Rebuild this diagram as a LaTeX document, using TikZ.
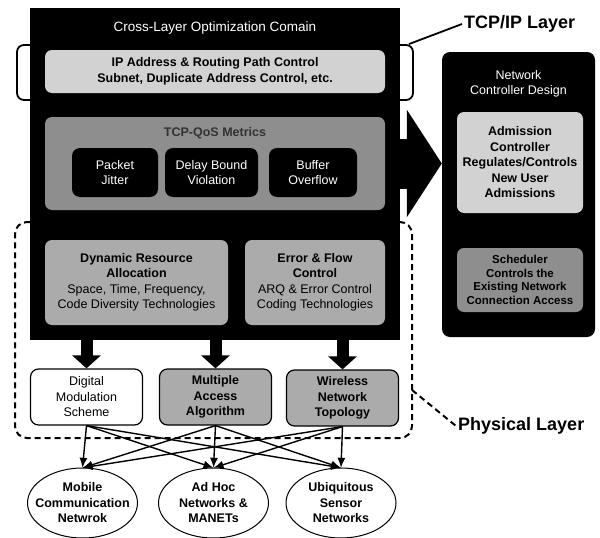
\documentclass[tikz,border=0pt]{standalone}
\usepackage{fontspec}
\setmainfont{Liberation Sans}
\usetikzlibrary{arrows.meta}
\definecolor{Ink}{HTML}{000000}
\definecolor{Pale}{HTML}{D2D2D2}
\definecolor{Mid}{HTML}{ABABAB}
\definecolor{Dusk}{HTML}{8E8E8E}
\newcommand\txtrm{\fontsize{12.5}{15.5}\selectfont}
\newcommand\txtbf{\fontsize{12.5}{15.5}\selectfont\bfseries}
\newcommand\txtsm{\fontsize{11.5}{13.5}\selectfont\bfseries}
\newcommand\txtbig{\fontsize{18}{21}\selectfont\bfseries}
\tikzset{
  >={Latex[length=10pt,width=8pt]},
  blk/.style={rectangle,fill=Ink,draw=none,inner sep=0pt},
  hdr/.style={text=white,font=\txtrm,align=center},
  panel/.style={rectangle,rounded corners=7pt,fill=Mid,draw=none,align=center,text=Ink,font=\txtbf,inner sep=2pt},
  qbox/.style={rectangle,rounded corners=8pt,fill=Ink,text=white,font=\txtrm,align=center,minimum height=49pt},
  outbox/.style={rectangle,rounded corners=8pt,draw=Ink,line width=1.2pt,fill=white,align=center,font=\txtrm,minimum width=112pt,minimum height=56pt,inner sep=1pt},
  netw/.style={rectangle,align=center,font=\txtbf,minimum width=110pt,minimum height=70pt,inner sep=0pt},
  rim/.style={draw=Ink,line width=1pt},
  trans/.style={->,line width=1.4pt,draw=Ink},
  fat/.style={line width=12pt,draw=Ink,-{Triangle[width=28pt,length=13pt]}},
  layerlab/.style={font=\txtbig,inner sep=2pt},
  bracket/.style={rectangle,rounded corners=7pt,draw=Ink,line width=1.8pt},
  physline/.style={draw=Ink,line width=2pt,dash pattern=on 6pt off 4pt}
}
\begin{document}
\begin{tikzpicture}[x=1pt,y=-1pt]
\useasboundingbox (0,0) rectangle (600,538);
% layer outlines, partly hidden by the domain box
\node[bracket,minimum width=396pt,minimum height=55pt] (tcpbrk) at (215,72.5) {};
\node[bracket,physline,rounded corners=12pt,minimum width=397pt,minimum height=216pt] (phys) at (213.5,330) {};

% cross-layer domain
\node[blk,minimum width=370pt,minimum height=332pt] (dom) at (215,174) {};
\node[hdr,font=\fontsize{13.5}{16}\selectfont] (domtitle) at (215,28) {Cross-Layer Optimization Comain};
\node[panel,fill=Pale,minimum width=340pt,minimum height=43pt] (ipc) at (215,71.5) {IP Address \& Routing Path Control\\Subnet, Duplicate Address Control, etc.};
\node[panel,fill=Dusk,minimum width=340pt,minimum height=93pt] (qos) at (215,163.5) {};
\node[font=\txtbf,text=black!80] (qostitle) at (215,133) {TCP-QoS Metrics};
\node[qbox,minimum width=86pt] (jit) at (115,172.5) {Packet\\Jitter};
\node[qbox,minimum width=93pt] (dbv) at (211.5,172.5) {Delay Bound\\Violation};
\node[qbox,minimum width=88pt] (bof) at (313,172.5) {Buffer\\Overflow};
\node[panel,font=\txtrm,minimum width=183pt,minimum height=85pt] (dra) at (136.5,282.5) {\textbf{Dynamic Resource}\\\textbf{Allocation}\\Space, Time, Frequency,\\Code Diversity Technologies};
\node[panel,font=\txtrm,minimum width=140pt,minimum height=85pt] (efc) at (315,282.5) {\textbf{Error \& Flow}\\\textbf{Control}\\ARQ \& Error Control\\Coding Technologies};

% network controller
\node[blk,rounded corners=8pt,minimum width=153pt,minimum height=285pt] (ctrl) at (518.5,194.5) {};
\node[hdr] (ctrltitle) at (518.5,84) {Network\\Controller Design};
\node[panel,fill=Pale,minimum width=126pt,minimum height=101pt] (adm) at (520,162.5) {Admission\\Controller\\Regulates/Controls\\New User\\Admissions};
\node[panel,fill=Dusk,font=\txtsm,minimum width=126pt,minimum height=64pt] (sch) at (520,280) {Scheduler\\Controls the\\Existing Network\\Connection Access};
\draw[line width=50pt,draw=Ink,-{Triangle[width=106pt,length=35pt]}] (dom.east |- qos) -- (ctrl.west |- qos);

% physical layer blocks
\node[outbox] (dig) at (86.5,397) {Digital\\Modulation\\Scheme};
\node[outbox,fill=Mid,font=\txtbf] (mac) at (215.5,397) {Multiple\\Access\\Algorithm};
\node[outbox,fill=Mid,font=\txtbf] (wnt) at (342.5,398) {Wireless\\Network\\Topology};
\foreach \b in {dig,mac,wnt}
  \draw[fat] (dom.south -| \b.north) -- (\b.north);

% networks
\node[netw] (mob) at (82.5,503) {Mobile\\Communication\\Netwrok};
\node[netw] (adh) at (213.5,503) {Ad Hoc\\Networks \&\\MANETs};
\node[netw] (usn) at (341,503) {Ubiquitous\\Sensor\\Networks};
\foreach \n in {mob,adh,usn}
  \draw[rim] (\n) ellipse [x radius=55pt,y radius=35pt];
\foreach \s in {dig,mac,wnt}
  \foreach \t in {mob,adh,usn}
    \draw[trans] (\s.south) -- (\t.north);

% layer labels
\node[layerlab,anchor=west] (tcplab) at (462,24) {TCP/IP Layer};
\draw[line width=1.8pt] ([xshift=-5pt]tcpbrk.north east) -- (tcplab.west);
\coordinate (physpt) at (412,390);
\node[layerlab,anchor=west] (physlab) at (456,426) {Physical Layer};
\draw[physline] (physpt) -- (physlab.west);
\end{tikzpicture}
\end{document}
